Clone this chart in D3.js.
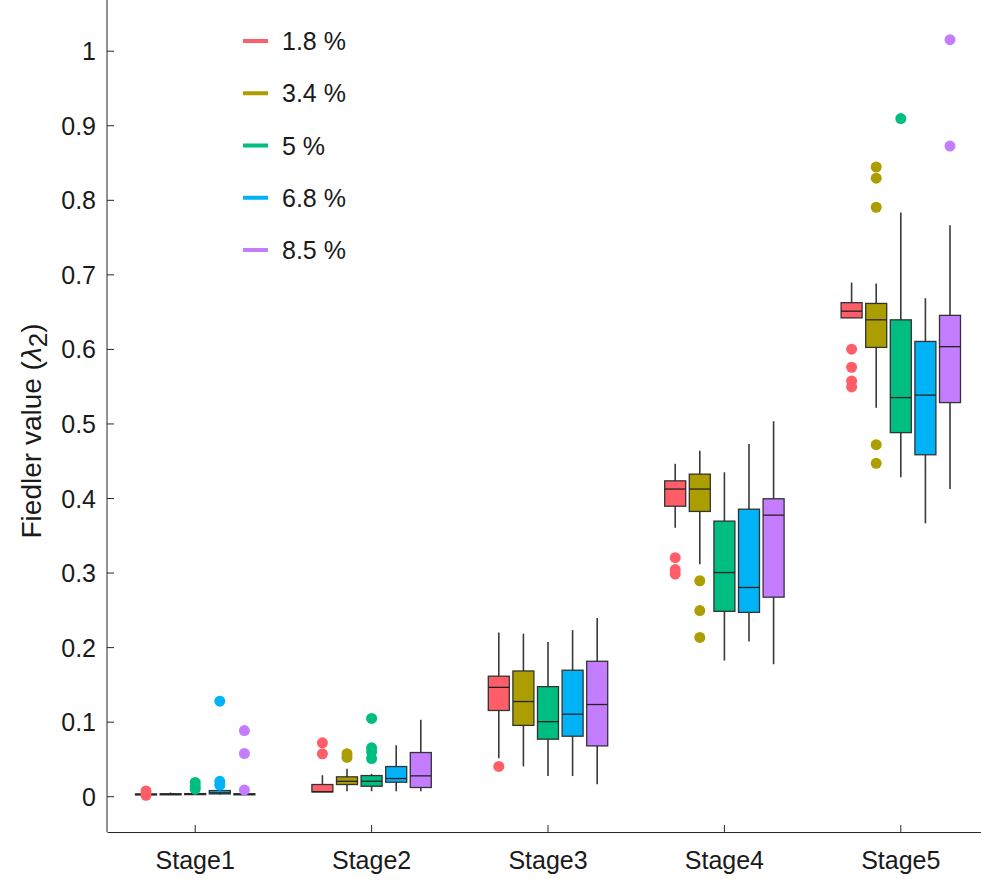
<!DOCTYPE html>
<html>
<head>
<meta charset="utf-8">
<script src="https://cdn.jsdelivr.net/npm/d3@7"></script>
<style>
  html, body { margin: 0; padding: 0; background: #fff; }
  svg { display: block; font-family: "Liberation Sans", Arial, Helvetica, sans-serif; }
</style>
</head>
<body>
<svg id="chart" width="981" height="880"></svg>
<script>
// Categories and series
const stages = ["Stage1", "Stage2", "Stage3", "Stage4", "Stage5"];
const seriesLabels = ["1.8 %", "3.4 %", "5 %", "6.8 %", "8.5 %"];
const seriesColors = ["#FF5D68", "#AC9E00", "#00BD81", "#00B3F7", "#C57DFF"];

// Box statistics per series, one row per stage: [whiskerLow, q1, median, q3, whiskerHigh]
const box18 = [
  [0.0020, 0.0020, 0.0025, 0.0030, 0.0030],
  [0.0058, 0.0058, 0.0060, 0.0157, 0.0282],
  [0.0510, 0.1150, 0.1460, 0.1610, 0.2197],
  [0.3600, 0.3890, 0.4120, 0.4230, 0.4460],
  [0.6416, 0.6416, 0.6506, 0.6620, 0.6890]
];
const box34 = [
  [0.0020, 0.0025, 0.0028, 0.0032, 0.0050],
  [0.0067, 0.0157, 0.0200, 0.0260, 0.0370],
  [0.0400, 0.0950, 0.1270, 0.1680, 0.2180],
  [0.3110, 0.3820, 0.4120, 0.4320, 0.4635],
  [0.5210, 0.6020, 0.6390, 0.6610, 0.6877]
];
const box50 = [
  [0.0020, 0.0025, 0.0030, 0.0035, 0.0050],
  [0.0067, 0.0134, 0.0201, 0.0277, 0.0300],
  [0.0270, 0.0765, 0.1000, 0.1470, 0.2070],
  [0.1820, 0.2480, 0.3000, 0.3690, 0.4345],
  [0.4280, 0.4877, 0.5347, 0.6390, 0.7830]
];
const box68 = [
  [0.0020, 0.0031, 0.0045, 0.0076, 0.0090],
  [0.0067, 0.0188, 0.0237, 0.0398, 0.0685],
  [0.0270, 0.0805, 0.1100, 0.1690, 0.2228],
  [0.2076, 0.2466, 0.2800, 0.3850, 0.4725],
  [0.3660, 0.4580, 0.5380, 0.6100, 0.6680]
];
const box85 = [
  [0.0020, 0.0025, 0.0028, 0.0032, 0.0040],
  [0.0067, 0.0117, 0.0273, 0.0586, 0.1025],
  [0.0160, 0.0675, 0.1230, 0.1810, 0.2390],
  [0.1770, 0.2670, 0.3770, 0.3990, 0.5030],
  [0.4120, 0.5280, 0.6030, 0.6450, 0.7660]
];
const boxStats = [box18, box34, box50, box68, box85];

// Outliers per series, one list per stage
const out18 = [[0.0070, 0.0013], [0.0716, 0.0568], [0.0400], [0.3200, 0.3040, 0.2980], [0.5996, 0.5754, 0.5570, 0.5490]];
const out34 = [[], [0.0570, 0.0520], [], [0.2890, 0.2490, 0.2130], [0.8440, 0.8290, 0.7900, 0.4716, 0.4466]];
const out50 = [[0.0184, 0.0134, 0.0094], [0.1043, 0.0649, 0.0595, 0.0506], [], [], [0.9090]];
const out68 = [[0.1275, 0.0200, 0.0148], [], [], [], []];
const out85 = [[0.0880, 0.0573, 0.0085], [], [], [], [1.0148, 0.8720]];
const outliers = [out18, out34, out50, out68, out85];

const yTicks = [0, 0.1, 0.2, 0.3, 0.4, 0.5, 0.6, 0.7, 0.8, 0.9, 1];

const svg = d3.select("#chart");
const mLeft = 107, mBottom = 832, mTop = 0, mRight = 989;

const x = d3.scaleBand().domain(stages).range([mLeft, mRight]).paddingInner(0).paddingOuter(0);
const inner = d3.scaleBand().domain(seriesLabels).range([-61.5, 61.5]);
const y = d3.scaleLinear().domain([-0.048, 1.068]).range([mBottom, mTop]);
const color = d3.scaleOrdinal().domain(seriesLabels).range(seriesColors);
const boxW = 21;

// Axes
const yAxis = svg.append("g")
  .attr("transform", `translate(${mLeft},0)`)
  .call(d3.axisLeft(y).tickValues(yTicks).tickSizeInner(-7).tickSizeOuter(0).tickPadding(11)
    .tickFormat(d => d3.format(".1~f")(d)));
yAxis.select(".domain").attr("d", `M0,${mTop}V${mBottom}`);

const xAxis = svg.append("g")
  .attr("transform", `translate(0,${mBottom})`)
  .call(d3.axisBottom(x).tickSizeInner(-7).tickSizeOuter(0).tickPadding(19));

[yAxis, xAxis].forEach(g => {
  g.select(".domain").attr("stroke", "#262626").attr("stroke-width", 1);
  g.selectAll(".tick line").attr("stroke", "#262626").attr("stroke-width", 1);
  g.selectAll(".tick text").attr("fill", "#1a1a1a").style("font-size", "25px");
});
yAxis.selectAll(".tick text").attr("dy", "0.36em");

// Y axis title
const title = svg.append("text")
  .attr("transform", "translate(41,431) rotate(-90)")
  .attr("text-anchor", "middle")
  .attr("fill", "#1a1a1a")
  .style("font-size", "28px");
title.append("tspan").text("Fiedler value (");
title.append("tspan").attr("font-style", "italic").text("λ");
title.append("tspan").attr("dy", "6").style("font-size", "26px").text("2");
title.append("tspan").attr("dy", "-6").text(")");

// Boxes
const plot = svg.append("g");
seriesLabels.forEach((s, si) => {
  const g = plot.append("g");
  const rows = boxStats[si].map((v, i) => ({ stage: stages[i], lo: v[0], q1: v[1], med: v[2], q3: v[3], hi: v[4] }));
  const cx = d => x(d.stage) + x.bandwidth() / 2 + inner(s) + inner.bandwidth() / 2;

  g.selectAll("line.whisker")
    .data(rows).join("line")
    .attr("class", "whisker")
    .attr("x1", cx).attr("x2", cx)
    .attr("y1", d => y(d.lo)).attr("y2", d => y(d.hi))
    .attr("stroke", "#3a3a3a").attr("stroke-width", 1.6);

  g.selectAll("rect.box")
    .data(rows).join("rect")
    .attr("class", "box")
    .attr("x", d => cx(d) - boxW / 2)
    .attr("width", boxW)
    .attr("y", d => y(d.q3))
    .attr("height", d => Math.max(1, y(d.q1) - y(d.q3)))
    .attr("fill", color(s))
    .attr("stroke", "#333").attr("stroke-width", 1.3);

  g.selectAll("line.median")
    .data(rows).join("line")
    .attr("class", "median")
    .attr("x1", d => cx(d) - boxW / 2).attr("x2", d => cx(d) + boxW / 2)
    .attr("y1", d => y(d.med)).attr("y2", d => y(d.med))
    .attr("stroke", "#222").attr("stroke-width", 1.3);

  const pts = [];
  outliers[si].forEach((list, i) => list.forEach(v => pts.push({ stage: stages[i], v })));
  g.selectAll("circle")
    .data(pts).join("circle")
    .attr("cx", cx)
    .attr("cy", d => y(d.v))
    .attr("r", 5.5)
    .attr("fill", color(s));
});

// Legend
const legend = svg.append("g").attr("transform", "translate(243,0)");
const legendY = d3.scalePoint().domain(seriesLabels).range([41, 250]);
seriesLabels.forEach(s => {
  const row = legend.append("g").attr("transform", `translate(0,${legendY(s)})`);
  row.append("line").attr("x1", 0).attr("x2", 25).attr("y1", 0).attr("y2", 0)
    .attr("stroke", color(s)).attr("stroke-width", 4);
  row.append("text").attr("x", 39).attr("dy", "0.36em")
    .attr("fill", "#1a1a1a").style("font-size", "25px").text(s);
});
</script>
</body>
</html>
